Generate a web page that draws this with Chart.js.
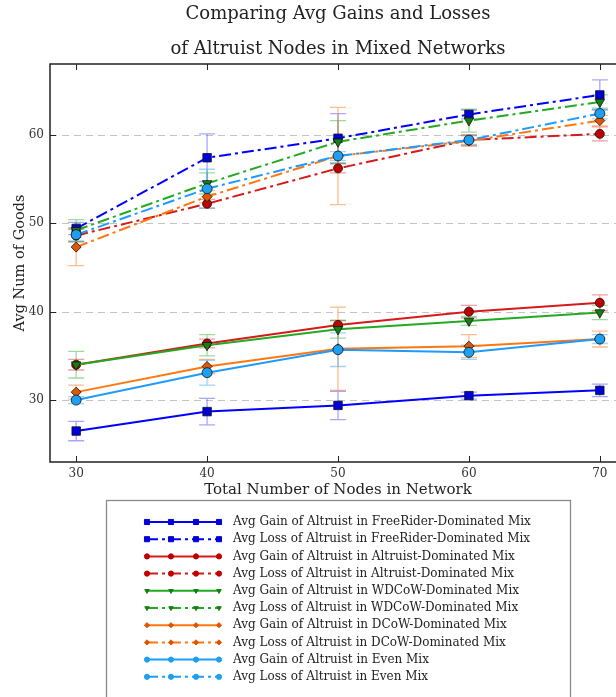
<!DOCTYPE html>
<html>
<head>
<meta charset="utf-8">
<title>Avg Gains and Losses of Altruist Nodes</title>
<script src="https://cdn.jsdelivr.net/npm/chart.js@4.4.1/dist/chart.umd.min.js"></script>
<style>
  html, body { margin: 0; padding: 0; background: #fff; overflow: hidden; }
  #wrap { width: 616px; height: 697px; overflow: hidden; }
</style>
</head>
<body>
<div id="wrap"><canvas id="chart" width="640" height="697"></canvas></div>
<script>
// ─── Data ───────────────────────────────────────────────
const nodes = [30, 40, 50, 60, 70];
const xTicks = [30, 40, 50, 60, 70];
const yTicks = [30, 40, 50, 60];

const frGain = [26.5, 28.7, 29.4, 30.5, 31.1];
const frGainErr = [1.1, 1.5, 1.6, 0.4, 0.7];
const frLoss = [49.4, 57.4, 59.6, 62.3, 64.5];
const frLossErr = [0.7, 2.7, 2.8, 0.5, 1.7];

const altGain = [34.0, 36.4, 38.5, 40.0, 41.0];
const altGainErr = [0.6, 0.5, 0.5, 0.7, 0.9];
const altLoss = [48.6, 52.2, 56.2, 59.4, 60.1];
const altLossErr = [0.7, 0.5, 0.5, 0.6, 0.8];

const wdGain = [34.0, 36.2, 38.0, 38.95, 39.9];
const wdGainErr = [1.5, 1.2, 1.0, 0.5, 0.8];
const wdLoss = [49.2, 54.5, 59.2, 61.6, 63.7];
const wdLossErr = [1.2, 1.2, 2.4, 1.3, 0.8];

const dcGain = [30.9, 33.8, 35.8, 36.1, 36.9];
const dcGainErr = [0.8, 0.8, 4.7, 1.3, 0.9];
const dcLoss = [47.3, 53.0, 57.6, 59.3, 61.6];
const dcLossErr = [2.1, 0.7, 5.5, 0.6, 0.6];

const evGain = [30.0, 33.1, 35.7, 35.4, 36.9];
const evGainErr = [0.4, 1.4, 1.9, 0.8, 0.5];
const evLoss = [48.7, 53.9, 57.6, 59.4, 62.4];
const evLossErr = [0.8, 2.2, 0.5, 0.5, 0.6];

// ─── Styles ─────────────────────────────────────────────
const SERIF = '"DejaVu Serif", "Liberation Serif", serif';
const lossDash = [12, 4, 3, 4];

const mixes = [
  { name: 'FreeRider-Dominated Mix', color: '#0000ff', fill: '#0000d8', errColor: 'rgba(60,60,255,0.45)',  shape: 'rect',     radius: 6,   rot: 0,   gain: frGain,  gainErr: frGainErr,  loss: frLoss,  lossErr: frLossErr },
  { name: 'Altruist-Dominated Mix',  color: '#d61a1a', fill: '#c00000', errColor: 'rgba(225,40,40,0.45)',  shape: 'circle',   radius: 4.5, rot: 0,   gain: altGain, gainErr: altGainErr, loss: altLoss, lossErr: altLossErr },
  { name: 'WDCoW-Dominated Mix',     color: '#22aa22', fill: '#128012', errColor: 'rgba(40,175,40,0.45)',  shape: 'triangle', radius: 5.5, rot: 180, gain: wdGain,  gainErr: wdGainErr,  loss: wdLoss,  lossErr: wdLossErr },
  { name: 'DCoW-Dominated Mix',      color: '#ff7711', fill: '#e05500', errColor: 'rgba(255,120,30,0.5)',  shape: 'rectRot',  radius: 5,   rot: 0,   gain: dcGain,  gainErr: dcGainErr,  loss: dcLoss,  lossErr: dcLossErr },
  { name: 'Even Mix',                color: '#1e9bff', fill: '#1ea0f0', errColor: 'rgba(40,160,255,0.45)', shape: 'circle',   radius: 5,   rot: 0,   gain: evGain,  gainErr: evGainErr,  loss: evLoss,  lossErr: evLossErr },
];

function makeSet(m, kind, idx) {
  const vals = kind === 'Gain' ? m.gain : m.loss;
  return {
    label: 'Avg ' + kind + ' of Altruist in ' + m.name,
    data: nodes.map((n, i) => ({ x: n, y: vals[i] })),
    errors: kind === 'Gain' ? m.gainErr : m.lossErr,
    errColor: m.errColor,
    isLoss: kind === 'Loss',
    borderColor: m.color,
    borderWidth: 2,
    borderDash: kind === 'Loss' ? lossDash : [],
    backgroundColor: m.fill,
    pointStyle: m.shape,
    pointRotation: m.rot,
    pointRadius: m.radius,
    pointBackgroundColor: m.fill,
    pointBorderColor: '#111',
    pointBorderWidth: 0.8,
    tension: 0,
    fill: false,
    order: 20 - idx,
  };
}

const datasets = [];
mixes.forEach(m => {
  datasets.push(makeSet(m, 'Gain', datasets.length));
  datasets.push(makeSet(m, 'Loss', datasets.length));
});

// ─── Plugin: grid, error bars, frame, legend box ────────
const plotExtras = {
  id: 'plotExtras',
  beforeDatasetsDraw(chart) {
    const { ctx, chartArea: a, scales: { x, y } } = chart;
    ctx.save();
    // dashed horizontal grid
    ctx.strokeStyle = '#c4c4c4';
    ctx.lineWidth = 1;
    ctx.setLineDash([7, 5]);
    yTicks.forEach(v => {
      const py = Math.round(y.getPixelForValue(v)) + 0.5;
      ctx.beginPath(); ctx.moveTo(a.left, py); ctx.lineTo(a.right, py); ctx.stroke();
    });
    ctx.setLineDash([]);
    // error bars
    ctx.beginPath(); ctx.rect(a.left, a.top, a.right - a.left, a.bottom - a.top); ctx.clip();
    chart.data.datasets.forEach(ds => {
      ctx.strokeStyle = ds.errColor;
      ctx.lineWidth = 1.3;
      ds.data.forEach((p, i) => {
        const e = ds.errors[i];
        const px = x.getPixelForValue(p.x);
        const top = y.getPixelForValue(p.y + e);
        const bot = y.getPixelForValue(p.y - e);
        ctx.beginPath();
        ctx.moveTo(px, top); ctx.lineTo(px, bot);
        ctx.moveTo(px - 8, top); ctx.lineTo(px + 8, top);
        ctx.moveTo(px - 8, bot); ctx.lineTo(px + 8, bot);
        ctx.stroke();
      });
    });
    ctx.restore();
  },
  afterDatasetsDraw(chart) {
    const { ctx, chartArea: a, scales: { x, y } } = chart;
    ctx.save();
    ctx.strokeStyle = '#222';
    ctx.lineWidth = 1.5;
    ctx.strokeRect(a.left, a.top, a.right - a.left, a.bottom - a.top);
    // inward tick marks
    ctx.lineWidth = 1;
    xTicks.forEach(v => {
      const px = Math.round(x.getPixelForValue(v)) + 0.5;
      ctx.beginPath();
      ctx.moveTo(px, a.bottom); ctx.lineTo(px, a.bottom - 6);
      ctx.moveTo(px, a.top); ctx.lineTo(px, a.top + 6);
      ctx.stroke();
    });
    yTicks.forEach(v => {
      const py = Math.round(y.getPixelForValue(v)) + 0.5;
      ctx.beginPath(); ctx.moveTo(a.left, py); ctx.lineTo(a.left + 6, py); ctx.stroke();
    });
    ctx.restore();
  },
  afterDraw(chart) {
    const { ctx } = chart;
    const box = { left: 106, top: 500, width: 464, height: 220 };
    ctx.save();
    ctx.strokeStyle = '#8a8a8a';
    ctx.lineWidth = 1.3;
    ctx.strokeRect(box.left + 0.5, box.top + 0.5, box.width, box.height);
    const marks = [147, 171, 196, 219];
    chart.data.datasets.forEach((ds, i) => {
      const ly = 522 + i * 17.2;
      ctx.strokeStyle = ds.borderColor;
      ctx.lineWidth = 2;
      ctx.setLineDash(ds.isLoss ? lossDash : []);
      ctx.beginPath(); ctx.moveTo(146, ly); ctx.lineTo(220, ly); ctx.stroke();
      ctx.setLineDash([]);
      ctx.fillStyle = ds.pointBackgroundColor;
      ctx.strokeStyle = ds.pointBackgroundColor;
      ctx.lineWidth = 1;
      marks.forEach(mx => {
        Chart.helpers.drawPoint(ctx, {
          pointStyle: ds.pointStyle, rotation: ds.pointRotation,
          radius: ds.pointStyle === 'rect' ? 3.6 : 2.6, borderWidth: 1
        }, mx, ly);
      });
      ctx.fillStyle = '#222';
      ctx.font = '12px ' + SERIF;
      ctx.textBaseline = 'middle';
      ctx.textAlign = 'left';
      ctx.fillText(ds.label, 233, ly);
    });
    ctx.restore();
  }
};

// ─── Chart ──────────────────────────────────────────────
new Chart(document.getElementById('chart'), {
  type: 'line',
  data: { datasets },
  plugins: [plotExtras],
  options: {
    responsive: false,
    animation: false,
    devicePixelRatio: 1,
    layout: { padding: { left: 0, right: 14, top: 0, bottom: 195 } },
    plugins: {
      legend: { display: false },
      tooltip: { enabled: false },
      title: {
        display: true,
        fullSize: false,
        text: ['Comparing Avg Gains and Losses', 'of Altruist Nodes in Mixed Networks'],
        color: '#222',
        font: { family: SERIF, size: 18, weight: 'normal', lineHeight: 1.95 },
        padding: { top: -3.5, bottom: -2.7 }
      }
    },
    scales: {
      x: {
        type: 'linear',
        min: 28, max: 72,
        afterBuildTicks: s => { s.ticks = xTicks.map(v => ({ value: v })); },
        afterFit: s => { s.height = 40; },
        grid: { display: false, drawTicks: false },
        border: { display: false },
        ticks: { color: '#333', padding: 5, font: { family: SERIF, size: 12 } },
        title: {
          display: true, text: 'Total Number of Nodes in Network', color: '#222',
          font: { family: SERIF, size: 15 }, padding: { top: 0, bottom: 3 }
        }
      },
      y: {
        min: 23, max: 68,
        afterBuildTicks: s => { s.ticks = yTicks.map(v => ({ value: v })); },
        afterFit: s => { s.width = 50; },
        grid: { display: false, drawTicks: false },
        border: { display: false },
        ticks: { color: '#333', padding: 6, font: { family: SERIF, size: 12 } },
        title: {
          display: true, text: 'Avg Num of Goods', color: '#222',
          font: { family: SERIF, size: 14.5 }, padding: { top: 12, bottom: 0 }
        }
      }
    }
  }
});
</script>
</body>
</html>
